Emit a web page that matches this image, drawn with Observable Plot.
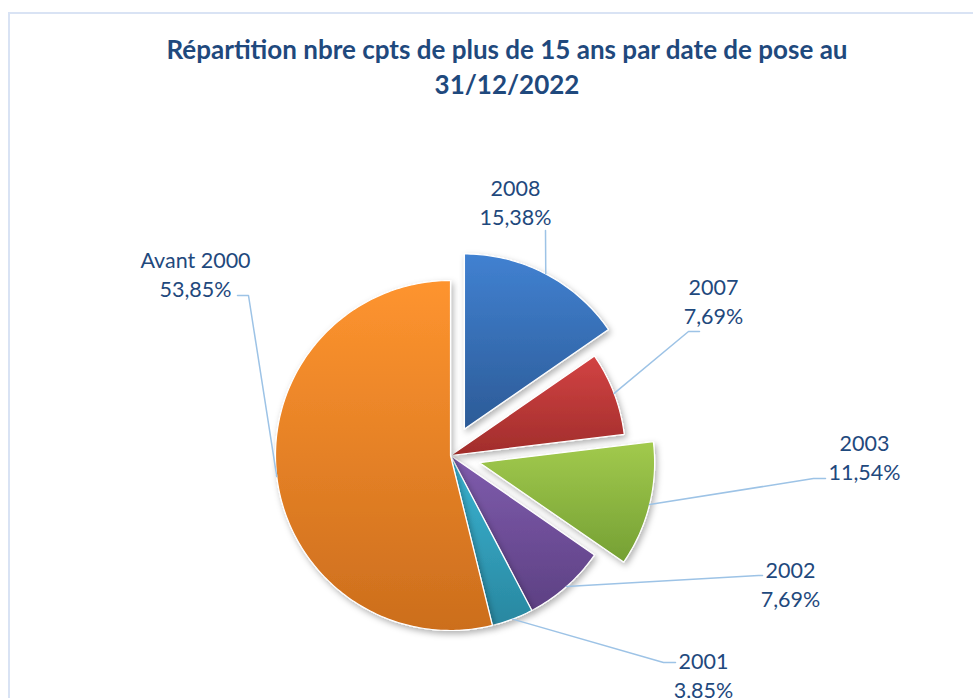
<!DOCTYPE html>
<html><head><meta charset="utf-8">
<script src="https://cdn.jsdelivr.net/npm/d3@7"></script>
<script src="https://cdn.jsdelivr.net/npm/@observablehq/plot@0.6"></script>
<style>
body{margin:0;background:#fff;width:973px;height:698px;overflow:hidden;position:relative;font-family:Lato,sans-serif}
#frame{position:absolute;left:8px;top:12px;width:1010px;height:720px;border:2px solid #d9e3f4;box-sizing:border-box}
#title{position:relative;margin-left:9px;width:996px;height:120px;box-sizing:border-box;padding-top:32px;text-align:center;font-weight:700;font-size:26px;line-height:35px;color:#1f497d}
#chart{position:relative;height:578px}
</style></head><body>
<div id="frame"></div>
<div id="title">Répartition nbre cpts de plus de 15 ans par date de pose au<br>31/12/2022</div>
<div id="chart"></div>
<script>
// ---- data ----
const categories = ["2008", "2007", "2003", "2002", "2001", "Avant 2000"];
const counts = [4, 2, 3, 2, 1, 14];
const exploded = [true, false, true, false, false, false];

// ---- styles ----
const topColors = ["#4181d1", "#d24343", "#a2ca4d", "#7f5cad", "#3ab4d2", "#fe942f"];
const bottomColors = ["#2c5b97", "#a12d2b", "#75a034", "#5d4083", "#2987a0", "#cc6e1d"];
const labelColor = "#1f497d";
const leaderColor = "#9dc3e6";

// ---- layout (chart units = px relative to pie centre, y downward) ----
const W = 973, H = 578, TOP = 120;
const CX = 450, CY = 455 - TOP;
const R = 175, EXPLODE = 30;
const labelPos = [[65, -254], [263, -155], [414, 1], [340, 128], [253, 219], [-255, -182]];
const leaderElbow = [
  [[95, -225]],
  [[238, -124], [249, -124]],
  [[363, 23], [375, 23]],
  [[308, 120], [312, 120]],
  [[213, 207], [225, 207]],
  [[-202, -160], [-213, -160]]
];

const total = d3.sum(counts);
const rows = categories.map((name, i) => ({
  name, count: counts[i], exploded: exploded[i], i,
  pct: (counts[i] / total * 100).toFixed(2).replace(".", ",") + "%"
}));

const arcs = d3.pie().sort(null).value(d => d.count)(rows);
const slices = arcs.map((p, i) => {
  const mid = (p.startAngle + p.endAngle) / 2;
  const off = rows[i].exploded ? EXPLODE : 0;
  const ox = off * Math.sin(mid), oy = -off * Math.cos(mid);
  const n = Math.max(2, Math.ceil((p.endAngle - p.startAngle) / (Math.PI / 180)));
  const pts = [{x: ox, y: oy}];
  for (let k = 0; k <= n; k++) {
    const a = p.startAngle + (p.endAngle - p.startAngle) * k / n;
    pts.push({x: ox + R * Math.sin(a), y: oy - R * Math.cos(a)});
  }
  pts.push({x: ox, y: oy});
  const edge = {x: ox + R * Math.sin(mid), y: oy - R * Math.cos(mid)};
  return {i, pts, edge};
});

const leaders = [];
slices.forEach((s, i) => {
  leaders.push({name: rows[i].name, x: s.edge.x, y: s.edge.y});
  leaderElbow[i].forEach(([x, y]) => leaders.push({name: rows[i].name, x, y}));
});

const labels = rows.map((r, i) => ({text: r.name + "\n" + r.pct, x: labelPos[i][0], y: labelPos[i][1]}));

const plot = Plot.plot({
  width: W, height: H, margin: 0,
  x: {domain: [-CX, W - CX], range: [0, W], axis: null},
  y: {domain: [-CY, H - CY], range: [0, H], axis: null},
  style: {background: "transparent", overflow: "visible", fontFamily: "Lato, sans-serif"},
  marks: [
    ...slices.map(s => Plot.line(s.pts, {
      x: "x", y: "y", fill: topColors[s.i], stroke: "#ffffff", strokeWidth: 1.2,
      strokeLinejoin: "round"
    })),
    Plot.line(leaders, {x: "x", y: "y", z: "name", stroke: leaderColor, strokeWidth: 1.5}),
    Plot.text(labels, {x: "x", y: "y", text: "text", fontSize: 21.5, lineHeight: 1.36, fill: labelColor})
  ]
});

const svg = d3.select(plot);
const defs = svg.insert("defs", ":first-child");
rows.forEach((r, i) => {
  const g = defs.append("linearGradient").attr("id", "pg" + i)
    .attr("x1", 0).attr("y1", 0).attr("x2", 0).attr("y2", 1);
  g.append("stop").attr("offset", "0%").attr("stop-color", topColors[i]);
  g.append("stop").attr("offset", "100%").attr("stop-color", bottomColors[i]);
});
const f = defs.append("filter").attr("id", "pshadow").attr("x", "-20%").attr("y", "-20%").attr("width", "140%").attr("height", "140%");
f.append("feDropShadow").attr("dx", 2).attr("dy", 3).attr("stdDeviation", 3).attr("flood-color", "#000").attr("flood-opacity", 0.3);
const groups = plot.querySelectorAll(":scope > g");
slices.forEach((s, i) => {
  const g = groups[i];
  if (!g) return;
  g.setAttribute("fill", `url(#pg${i}) ${topColors[i]}`);
  g.querySelectorAll("path").forEach(p => { p.setAttribute("fill", `url(#pg${i}) ${topColors[i]}`); p.setAttribute("filter", "url(#pshadow)"); });
});

document.getElementById("chart").appendChild(plot);
</script>
</body></html>
